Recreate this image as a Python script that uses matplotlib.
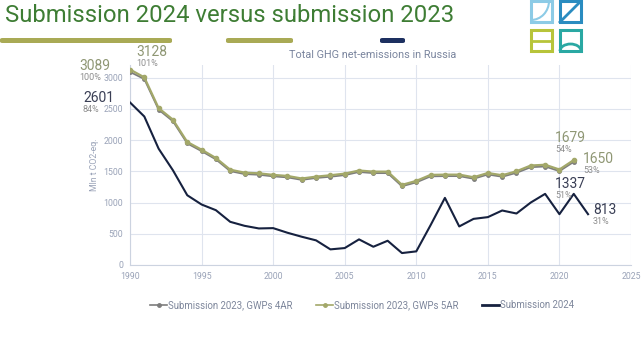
import matplotlib
matplotlib.use("Agg")
import matplotlib.pyplot as plt
from matplotlib.patches import FancyBboxPatch, Rectangle, Arc
from matplotlib.lines import Line2D

years = list(range(1990, 2023))
years_2023 = list(range(1990, 2022))

sub2023_4ar = [3089, 2975, 2485, 2300, 1945, 1822, 1690, 1502, 1455, 1444, 1418, 1402, 1362, 1392, 1412, 1438,
               1488, 1470, 1470, 1260, 1322, 1418, 1422, 1422, 1380, 1448, 1412, 1475, 1565, 1576, 1502, 1650]
sub2023_5ar = [3128, 3002, 2510, 2325, 1968, 1845, 1712, 1525, 1478, 1467, 1442, 1425, 1384, 1414, 1436, 1462,
               1512, 1494, 1494, 1282, 1346, 1442, 1446, 1446, 1404, 1472, 1436, 1500, 1592, 1604, 1528, 1679]
sub2024 = [2601, 2376, 1861, 1515, 1116, 968, 877, 691, 627, 585, 590, 516, 452, 394, 250, 271,
           410, 292, 388, 191, 218, 638, 1074, 617, 738, 766, 872, 824, 1000, 1138, 813, 1138, 813]

series_labels = ["Submission 2023, GWPs 4AR", "Submission 2023, GWPs 5AR", "Submission 2024"]
x_ticks = [1990, 1995, 2000, 2005, 2010, 2015, 2020, 2025]
y_ticks = [0, 500, 1000, 1500, 2000, 2500, 3000]

plt.rcParams['font.family'] = ['Roboto', 'DejaVu Sans']

W, H = 642, 362
fig = plt.figure(figsize=(W / 100, H / 100), dpi=100)
fig.patch.set_facecolor("white")

def fx(px):
    return px / W

def fy(py):
    return 1 - py / H

ax = fig.add_axes([fx(130), fy(265), fx(631) - fx(130), fy(65) - fy(265)])
grid_c = "#dfe4ee"
tick_c = "#9aa3b8"
olive = "#a3a86a"
grey = "#7d7d7d"
navy = "#16213f"

ax.plot(years_2023, sub2023_4ar, color=grey, lw=1.3, marker="o", ms=2.5, zorder=3)
ax.plot(years_2023, sub2023_5ar, color=olive, lw=1.6, marker="o", ms=3, zorder=4)
ax.plot(years, sub2024, color=navy, lw=1.5, zorder=5)

ax.set_xlim(1990, 2025)
ax.set_ylim(0, 3200)
ax.set_xticks(x_ticks)
ax.set_yticks(y_ticks)
ax.grid(True, color=grid_c, lw=0.8)
ax.set_axisbelow(True)
for s in ["top", "right"]:
    ax.spines[s].set_visible(False)
for s in ["left", "bottom"]:
    ax.spines[s].set_color("#ccd3e0")
    ax.spines[s].set_linewidth(0.8)
ax.tick_params(length=0, labelsize=6.3, labelcolor=tick_c, pad=5)
ax.set_ylabel("Mln t CO2-eq.", fontsize=6.3, color=tick_c, labelpad=3)

# titles
fig.text(fx(5), fy(15), "Submission 2024 versus submission 2023", fontsize=17.2,
         color="#3e7d34", va="center", ha="left")
fig.text(fx(373), fy(55), "Total GHG net-emissions in Russia", fontsize=7.8,
         color="#7a859e", va="center", ha="center")

# decorative bars
for x0, x1, c in [(0, 172, "#a9aa55"), (226, 293, "#a9aa55"), (380, 405, "#1d3060")]:
    fig.patches.append(FancyBboxPatch((fx(x0), fy(43)), fx(x1 - x0), fy(38) - fy(43),
                                      boxstyle="round,pad=0,rounding_size=0.004",
                                      transform=fig.transFigure, fc=c, ec="none"))

# logo squares
S = 21
def sq(x, y, c):
    fig.patches.append(Rectangle((fx(x), fy(y + S)), fx(S), fy(y) - fy(y + S),
                                 transform=fig.transFigure, fc="none", ec=c, lw=2.2))
sq(531, 1, "#8ccbe6")
sq(560, 1, "#2a8cc0")
sq(531, 30, "#b7c43a")
sq(560, 30, "#2aa8a3")
fig.lines.append(Line2D([fx(560), fx(560 + S)], [fy(1 + S), fy(1)], transform=fig.transFigure, color="#2a8cc0", lw=2))
fig.lines.append(Line2D([fx(531), fx(531 + S)], [fy(40.5), fy(40.5)], transform=fig.transFigure, color="#b7c43a", lw=2))
fig.patches.append(Arc((fx(531), fy(1)), fx(2 * S - 6), fy(0) - fy(2 * S - 4), theta1=270, theta2=360,
                       transform=fig.transFigure, color="#8ccbe6", lw=1.5))
fig.patches.append(Arc((fx(560 + S / 2), fy(30 + S)), fx(S), fy(30) - fy(30 + 14), theta1=0, theta2=180,
                       transform=fig.transFigure, color="#2aa8a3", lw=2))

# annotations
lab_ol = "#8f9774"
lab_dk = "#3a3f55"
pct_c = "#8e8e8e"
def ann(x, y, num, pct, c):
    fig.text(fx(x), fy(y), num, fontsize=10, color=c, va="center", ha="left")
    fig.text(fx(x), fy(y + 12), pct, fontsize=6.5, color=pct_c, va="center", ha="left")
ann(79, 66, "3089", "100%", lab_ol)
ann(136, 52, "3128", "101%", lab_ol)
ann(83, 98, "2601", "84%", lab_dk)
ann(555, 138, "1679", "54%", lab_ol)
ann(583, 159, "1650", "53%", lab_ol)
ann(555, 184, "1337", "51%", lab_dk)
ann(593, 210, "813", "31%", lab_dk)

handles = [Line2D([], [], color=grey, lw=1.2, marker="o", ms=2.5),
           Line2D([], [], color=olive, lw=1.2, marker="o", ms=2.5),
           Line2D([], [], color=navy, lw=2)]
fig.legend(handles, series_labels, loc="center", bbox_to_anchor=(fx(362), fy(305)), ncol=3,
           frameon=False, fontsize=6.9, handlelength=1.8, handletextpad=0.1, columnspacing=2.4,
           labelcolor="#7d869b")

fig.savefig("out.png", dpi=100)
